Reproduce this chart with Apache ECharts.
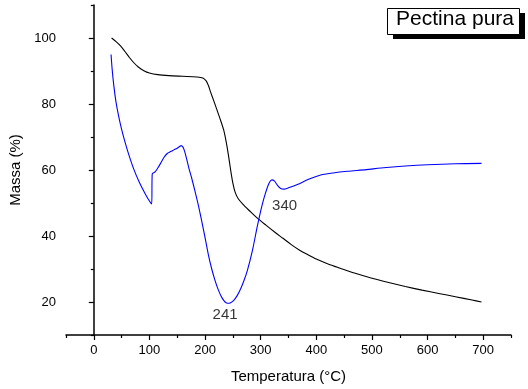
<!DOCTYPE html>
<html><head><meta charset="utf-8">
<script src="https://cdn.jsdelivr.net/npm/echarts@6/dist/echarts.min.js"></script>
<style>html,body{margin:0;padding:0;background:#fff}#c{width:528px;height:389px}</style>
</head><body><div id="c"></div>
<script>
// Temperature (°C) / mass (%) pairs
const tgCurve = [[32,100],[40,98.9],[48,97.6],[56,95.9],[64,94.1],[72,92.5],[80,91.2],[90,90.1],[100,89.4],[115,88.9],[135,88.6],[160,88.4],[185,88.2],[196,87.9],[202,87.0],[206,85.6],[210,83.6],[216,80.8],[222,77.9],[228,75.0],[234,71.8],[238,68.5],[242,64.5],[246,60],[250,56],[254,53.3],[260,51.2],[270,49.3],[282,47.3],[294,45.4],[310,43.2],[325,41.2],[340,39.3],[355,37.4],[370,35.7],[385,34.3],[400,33.0],[420,31.6],[440,30.4],[470,28.7],[500,27.2],[530,25.9],[560,24.7],[590,23.6],[620,22.6],[650,21.6],[680,20.6],[697,20]];
const dtgCurve = [[31,95],[33,90.5],[36,85.5],[40,80.5],[45,76],[50,72.3],[56,68.5],[63,64.6],[72,60.2],[82,56.2],[93,52.6],[100,50.6],[104,49.7],[105,58.8],[110,59.4],[115,60.6],[120,62],[126,63.8],[132,65],[138,65.6],[144,66.1],[150,66.6],[155,67.2],[157,67.4],[160,67],[163,65.8],[167,63.3],[171,60.5],[176,57.5],[182,53.5],[188,49.3],[194,44.5],[200,39.5],[206,34.3],[212,30],[218,26.5],[224,23.6],[230,21.4],[236,20],[241,19.6],[246,19.8],[252,20.6],[258,22],[264,24],[270,26.5],[276,29.5],[285,35.5],[294,43],[302,49],[309,53.2],[315,56],[320,57],[325,56.6],[330,55.4],[336,54.4],[342,54.2],[350,54.6],[366,55.6],[385,57.1],[408,58.5],[430,59.1],[456,59.6],[490,60.1],[516,60.6],[560,61.2],[600,61.6],[650,61.9],[697,62]];
const peakLabels = [[236,16.2,'241'],[343,49.2,'340']];
const xTicks = [0,100,200,300,400,500,600,700];
const xMinorTicks = [-50,50,150,250,350,450,550,650,750];
const yTicks = [20,40,60,80,100];
const yMinorTicks = [10,30,50,70,90,110];
const legendText = 'Pectina pura';
const xName = 'Temperatura (°C)';
const yName = 'Massa (%)';

const FONT = '"Liberation Sans", Arial, sans-serif';
const chart = echarts.init(document.getElementById('c'), null, {renderer:'canvas'});
const lineC = '#000';
chart.setOption({
  animation:false,
  grid:{left:66,right:17,top:5,bottom:54},
  xAxis:[{
    type:'value',min:-50,max:750,position:'bottom',
    name:xName,nameLocation:'middle',nameGap:34,
    nameTextStyle:{fontFamily:FONT,fontSize:15,color:'#000'},
    axisLine:{lineStyle:{color:lineC,width:1.5}},
    axisTick:{show:true,length:5,lineStyle:{color:lineC,width:1.2},customValues:xTicks},
    axisLabel:{fontFamily:FONT,fontSize:13,color:'#000',margin:9,customValues:xTicks},
    splitLine:{show:false}
  },{
    type:'value',min:-50,max:750,position:'bottom',
    axisLine:{show:false},
    axisTick:{show:true,length:3,lineStyle:{color:lineC,width:1.2},customValues:xMinorTicks},
    axisLabel:{show:false},splitLine:{show:false}
  }],
  yAxis:[{
    type:'value',min:10,max:110,position:'left',
    name:yName,nameLocation:'middle',nameGap:29,
    nameTextStyle:{fontFamily:FONT,fontSize:15,color:'#000'},
    axisLine:{show:true,lineStyle:{color:lineC,width:1.5}},
    axisTick:{show:true,length:5,lineStyle:{color:lineC,width:1.2},customValues:yTicks},
    axisLabel:{fontFamily:FONT,fontSize:13,color:'#000',margin:10,customValues:yTicks},
    splitLine:{show:false}
  },{
    type:'value',min:10,max:110,position:'left',
    axisLine:{show:false},
    axisTick:{show:true,length:3,lineStyle:{color:lineC,width:1.2},customValues:yMinorTicks},
    axisLabel:{show:false},splitLine:{show:false}
  }],
  series:[
    {type:'line',data:tgCurve,showSymbol:false,smooth:0.3,
     lineStyle:{color:'#000',width:1.1},itemStyle:{color:'#000'}},
    {type:'line',data:dtgCurve,showSymbol:false,smooth:0.3,
     lineStyle:{color:'#0000ff',width:1.1},itemStyle:{color:'#0000ff'}},
    {type:'scatter',data:peakLabels,symbolSize:1,itemStyle:{color:'rgba(0,0,0,0)'},
     label:{show:true,position:'inside',formatter:p=>p.value[2],fontFamily:FONT,fontSize:15,color:'#000'},
     silent:true}
  ],
  graphic:[
    {type:'rect',right:3,top:13,shape:{width:132,height:26},style:{fill:'#000'}},
    {type:'rect',right:8,top:8,shape:{width:132,height:26},style:{fill:'#fff',stroke:'#000',lineWidth:1}},
    {type:'text',right:14,top:9,style:{text:legendText,font:'21px '+FONT,fill:'#000'}}
  ]
});
</script></body></html>
